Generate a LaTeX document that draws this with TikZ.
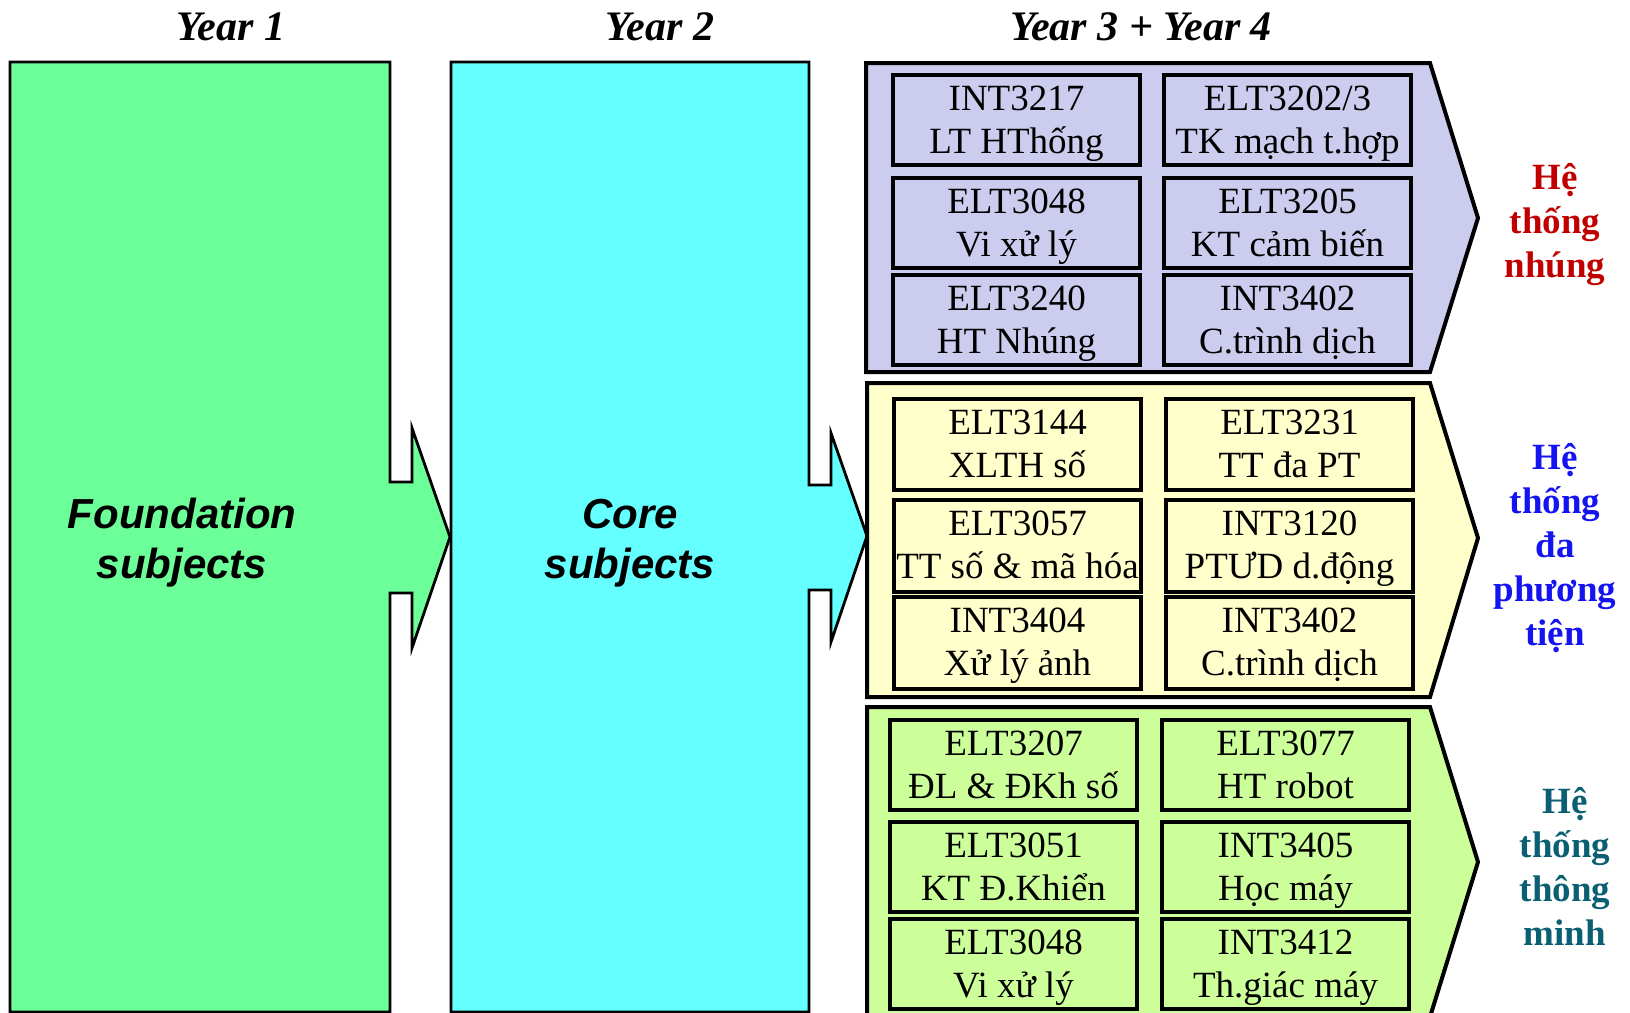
\documentclass[tikz,border=0pt]{standalone}
\usepackage{fontspec}
\setmainfont{Liberation Serif}
\setsansfont{Liberation Sans}
\definecolor{fgreen}{RGB}{108,255,153}
\definecolor{fcyan}{RGB}{102,255,255}
\definecolor{flav}{RGB}{204,204,238}
\definecolor{fyel}{RGB}{255,255,204}
\definecolor{flime}{RGB}{204,255,153}
\definecolor{tred}{RGB}{192,0,0}
\definecolor{tblue}{RGB}{20,20,240}
\definecolor{tteal}{RGB}{10,95,115}
\newcommand\course[6]{%
  \node[cbox,#6] (#1) at (#2,#3) {};
  \node[ctext] (#1t) at ([yshift=-40pt]#1.north) {#4\\#5};
}
\begin{document}
\begin{tikzpicture}[x=0.5pt,y=-0.5pt,
  cbox/.style={draw=black, line width=2pt, minimum width=123.5pt, minimum height=45pt, inner sep=0pt, anchor=north west},
  ctext/.style={font=\fontsize{18.5}{21.5}\selectfont, align=center, anchor=base, inner sep=0pt},
  cont/.style={draw=black, line width=2pt, line join=miter},
  yearbox/.style={draw=black, line width=1.4pt, line join=miter},
  header/.style={font=\fontsize{21}{25}\selectfont\bfseries\itshape, anchor=base, inner sep=0pt},
  subj/.style={font=\sffamily\bfseries\itshape\fontsize{21}{25}\selectfont, align=center, anchor=base, inner sep=0pt},
  sys/.style={font=\fontsize{18.5}{22}\selectfont\bfseries, align=center, anchor=base, inner sep=0pt}]
\useasboundingbox (0,0) rectangle (1630,1013);
\clip (0,0) rectangle (1630,1013);
\fill[white] (0,0) rectangle (1630,1013);

% headers
\node[header] (y1) at (231,40) {Year 1};
\node[header] (y2) at (660,40) {Year 2};
\node[header] (y34) at (1141,40) {Year 3 + Year 4};

% year 1 block with arrow
\draw[yearbox, fill=fgreen] (10,62) -- (390,62) -- (390,482) -- (412,482) -- (412,428) -- (450,537)
  -- (412,648) -- (412,593) -- (390,593) -- (390,1012) -- (10,1012) -- cycle;
% year 2 block with arrow
\draw[yearbox, fill=fcyan] (451,62) -- (809,62) -- (809,485) -- (831,485) -- (831,433) -- (867,536)
  -- (831,642) -- (831,590) -- (809,590) -- (809,1012) -- (451,1012) -- cycle;

\node[subj] (found) at (182,578) {Foundation\\subjects};
\node[subj] (core) at (630,578) {Core\\subjects};

% containers
\draw[cont, fill=flav] (866,63) -- (1430,63) -- (1478,218) -- (1430,372) -- (866,372) -- cycle;
\draw[cont, fill=fyel] (867,383) -- (1430,383) -- (1478,538) -- (1430,697) -- (867,697) -- cycle;
\draw[cont, fill=flime] (867,707) -- (1430,707) -- (1478,862) -- (1430,1017) -- (867,1017) -- cycle;

% embedded systems
\course{p1}{891}{73}{INT3217}{LT HThống}{}
\course{p2}{1162}{73}{ELT3202/3}{TK mạch t.hợp}{}
\course{p3}{891}{176}{ELT3048}{Vi xử lý}{}
\course{p4}{1162}{176}{ELT3205}{KT cảm biến}{}
\course{p5}{891}{273}{ELT3240}{HT Nhúng}{}
\course{p6}{1162}{273}{INT3402}{C.trình dịch}{}

% multimedia
\course{y1a}{892}{397}{ELT3144}{XLTH số}{minimum height=45.5pt}
\course{y2a}{1164}{397}{ELT3231}{TT đa PT}{minimum height=45.5pt}
\course{y3a}{892}{498}{ELT3057}{TT số \& mã hóa}{minimum height=46pt}
\course{y4a}{1164}{498}{INT3120}{PTƯD d.động}{minimum height=46pt}
\course{y5a}{892}{595}{INT3404}{Xử lý ảnh}{minimum height=46pt}
\course{y6a}{1164}{595}{INT3402}{C.trình dịch}{minimum height=46pt}

% intelligent systems
\course{g1}{888}{718}{ELT3207}{ĐL \& ĐKh số}{}
\course{g2}{1160}{718}{ELT3077}{HT robot}{}
\course{g3}{888}{820}{ELT3051}{KT Đ.Khiển}{}
\course{g4}{1160}{820}{INT3405}{Học máy}{}
\course{g5}{888}{917}{ELT3048}{Vi xử lý}{}
\course{g6}{1160}{917}{INT3412}{Th.giác máy}{}

% system labels
\node[sys, text=tred] (s1) at (1555,277) {Hệ\\thống\\nhúng};
\node[sys, text=tblue] (s2) at (1555,645) {Hệ\\thống\\đa\\phương\\tiện};
\node[sys, text=tteal] (s3) at (1565,945) {Hệ\\thống\\thông\\minh};
\end{tikzpicture}
\end{document}
